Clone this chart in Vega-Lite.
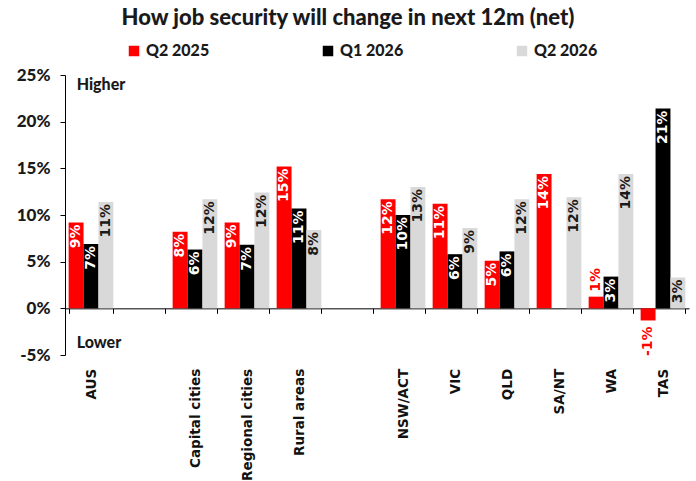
{
  "$schema": "https://vega.github.io/schema/vega-lite/v6.json",
  "width": 624,
  "height": 280,
  "autosize": {"type": "none"},
  "padding": {"left": 65, "top": 75, "right": 7, "bottom": 126},
  "background": "white",
  "title": {
    "text": "How job security will change in next 12m (net)",
    "font": "Lato",
    "fontSize": 22,
    "fontWeight": 900,
    "color": "#1a1a1a",
    "anchor": "middle",
    "dx": -29,
    "offset": 13
  },
  "config": {
    "view": {"stroke": null},
    "locale": {"number": {"decimal": ".", "thousands": ",", "grouping": [3], "currency": ["$", ""], "minus": "-"}}
  },
  "datasets": {
    "bars": [
      {"region": "AUS", "series": "Q2 2025", "value": 0.092},
      {"region": "AUS", "series": "Q1 2026", "value": 0.069},
      {"region": "AUS", "series": "Q2 2026", "value": 0.114},
      {"region": "Capital cities", "series": "Q2 2025", "value": 0.082},
      {"region": "Capital cities", "series": "Q1 2026", "value": 0.063},
      {"region": "Capital cities", "series": "Q2 2026", "value": 0.117},
      {"region": "Regional cities", "series": "Q2 2025", "value": 0.092},
      {"region": "Regional cities", "series": "Q1 2026", "value": 0.068},
      {"region": "Regional cities", "series": "Q2 2026", "value": 0.124},
      {"region": "Rural areas", "series": "Q2 2025", "value": 0.152},
      {"region": "Rural areas", "series": "Q1 2026", "value": 0.107},
      {"region": "Rural areas", "series": "Q2 2026", "value": 0.084},
      {"region": "NSW/ACT", "series": "Q2 2025", "value": 0.117},
      {"region": "NSW/ACT", "series": "Q1 2026", "value": 0.1},
      {"region": "NSW/ACT", "series": "Q2 2026", "value": 0.13},
      {"region": "VIC", "series": "Q2 2025", "value": 0.112},
      {"region": "VIC", "series": "Q1 2026", "value": 0.058},
      {"region": "VIC", "series": "Q2 2026", "value": 0.086},
      {"region": "QLD", "series": "Q2 2025", "value": 0.051},
      {"region": "QLD", "series": "Q1 2026", "value": 0.061},
      {"region": "QLD", "series": "Q2 2026", "value": 0.117},
      {"region": "SA/NT", "series": "Q2 2025", "value": 0.144},
      {"region": "SA/NT", "series": "Q2 2026", "value": 0.119},
      {"region": "WA", "series": "Q2 2025", "value": 0.0125},
      {"region": "WA", "series": "Q1 2026", "value": 0.034},
      {"region": "WA", "series": "Q2 2026", "value": 0.144},
      {"region": "TAS", "series": "Q2 2025", "value": -0.013},
      {"region": "TAS", "series": "Q1 2026", "value": 0.214},
      {"region": "TAS", "series": "Q2 2026", "value": 0.033}
    ]
  },
  "layer": [
    {
      "data": {"name": "bars"},
      "mark": {"type": "bar"},
      "encoding": {
        "x": {
          "field": "region",
          "type": "nominal",
          "title": null,
          "scale": {
            "domain": ["AUS", "gap1", "Capital cities", "Regional cities", "Rural areas", "gap2", "NSW/ACT", "VIC", "QLD", "SA/NT", "WA", "TAS"],
            "paddingInner": 0.14,
            "paddingOuter": 0.07
          },
          "axis": {
            "orient": "bottom",
            "offset": -46.67,
            "domainColor": "#000000",
            "domainWidth": 1,
            "ticks": true,
            "tickColor": "#000000",
            "tickSize": 5,
            "tickBand": "extent",
            "labelAngle": -90,
            "labelPadding": 55,
            "labelFont": "DejaVu Sans",
            "labelFontWeight": "bold",
            "labelFontSize": 13.5,
            "labelColor": "#111111",
            "labelLimit": 200,
            "labelExpr": "indexof(datum.label,'gap')==0 ? '' : datum.label",
            "grid": false
          }
        },
        "xOffset": {
          "field": "series",
          "type": "nominal",
          "scale": {"domain": ["Q2 2025", "Q1 2026", "Q2 2026"], "paddingInner": 0, "paddingOuter": 0}
        },
        "y": {
          "field": "value",
          "type": "quantitative",
          "title": null,
          "scale": {"domain": [-0.05, 0.25], "nice": false, "zero": false},
          "axis": {
            "values": [-0.05, 0, 0.05, 0.1, 0.15, 0.2, 0.25],
            "format": ".0%",
            "domainColor": "#000000",
            "tickColor": "#000000",
            "tickSize": 5,
            "labelFont": "Lato",
            "labelFontWeight": 900,
            "labelFontSize": 17,
            "labelColor": "#1a1a1a",
            "labelPadding": 10,
            "grid": false
          }
        },
        "color": {
          "field": "series",
          "type": "nominal",
          "scale": {"domain": ["Q2 2025", "Q1 2026", "Q2 2026"], "range": ["#ff0000", "#000000", "#d9d9d9"]},
          "legend": {
            "orient": "none",
            "legendX": 61,
            "legendY": -32,
            "direction": "horizontal",
            "title": null,
            "symbolType": "square",
            "symbolSize": 110,
            "symbolStrokeWidth": 0,
            "labelFont": "Lato",
            "labelFontSize": 16,
            "labelFontWeight": 900,
            "labelColor": "#1a1a1a",
            "labelOffset": 4,
            "columnPadding": 110
          }
        }
      }
    },
    {
      "data": {"name": "bars"},
      "transform": [{"filter": "datum.value >= 0.02"}],
      "mark": {"type": "text", "angle": 270, "align": "right", "baseline": "middle", "dx": -2, "font": "DejaVu Sans", "fontWeight": "bold", "fontSize": 14},
      "encoding": {
        "x": {"field": "region", "type": "nominal", "title": null},
        "xOffset": {"field": "series", "type": "nominal"},
        "y": {"field": "value", "type": "quantitative", "title": null},
        "text": {"field": "value", "type": "quantitative", "format": ".0%"},
        "color": {
          "condition": [{"test": "datum.series === 'Q2 2026'", "value": "#1a1a1a"}],
          "value": "#ffffff"
        }
      }
    },
    {
      "data": {"name": "bars"},
      "transform": [{"filter": "datum.value < 0"}],
      "mark": {"type": "text", "angle": 270, "align": "right", "baseline": "middle", "dx": -6, "font": "DejaVu Sans", "fontWeight": "bold", "fontSize": 14, "color": "#ff0000"},
      "encoding": {
        "x": {"field": "region", "type": "nominal", "title": null},
        "xOffset": {"field": "series", "type": "nominal"},
        "y": {"field": "value", "type": "quantitative", "title": null},
        "text": {"field": "value", "type": "quantitative", "format": ".0%"}
      }
    },
    {
      "data": {"name": "bars"},
      "transform": [{"filter": "datum.value >= 0 && datum.value < 0.02"}],
      "mark": {"type": "text", "angle": 270, "align": "left", "baseline": "middle", "dx": 5, "font": "DejaVu Sans", "fontWeight": "bold", "fontSize": 14, "color": "#ff0000"},
      "encoding": {
        "x": {"field": "region", "type": "nominal", "title": null},
        "xOffset": {"field": "series", "type": "nominal"},
        "y": {"field": "value", "type": "quantitative", "title": null},
        "text": {"field": "value", "type": "quantitative", "format": ".0%"}
      }
    },
    {
      "data": {"values": [{"label": "Higher", "pos": 0.239}, {"label": "Lower", "pos": -0.037}]},
      "mark": {"type": "text", "align": "left", "baseline": "middle", "dx": 8, "font": "Lato", "fontWeight": 900, "fontSize": 16, "color": "#1a1a1a"},
      "encoding": {
        "x": {"datum": "AUS", "type": "nominal", "bandPosition": 0, "title": null},
        "y": {"field": "pos", "type": "quantitative", "title": null},
        "text": {"field": "label"}
      }
    }
  ]
}
